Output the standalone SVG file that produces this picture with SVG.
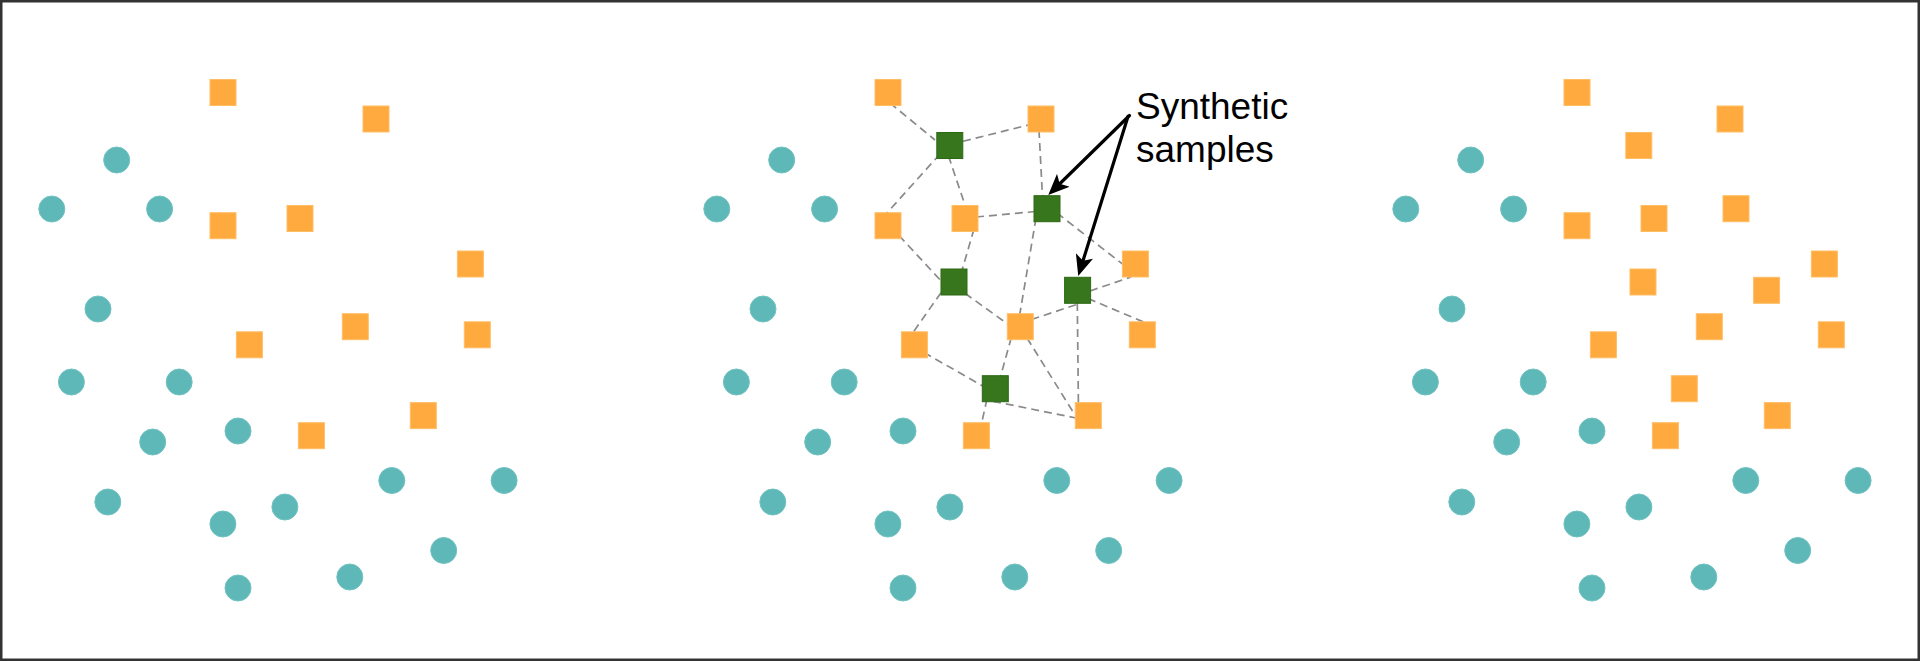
<svg xmlns="http://www.w3.org/2000/svg" xmlns:xlink="http://www.w3.org/1999/xlink" width="1920" height="661" viewBox="0 0 1920 661">
  <style>
    .c { fill: #5eb8b8; stroke: #72c2c2; stroke-width: 1; }
    .o { fill: #ffaa3f; stroke: #ffbd66; stroke-width: 1; }
    .g { fill: #38761d; stroke: #2c6a14; stroke-width: 1; }
    .e { fill: none; stroke: #8a8a8a; stroke-width: 1.7; stroke-dasharray: 8 5; }
    .a { fill: none; stroke: #000; stroke-width: 3.2; stroke-linecap: round; }
    .t { font-family: "Liberation Sans", Arial, sans-serif; font-size: 37px; fill: #000; }
  </style>
  <defs>
    <marker id="arrowhead" viewBox="0 0 21 18" refX="6" refY="9" markerWidth="21" markerHeight="18" markerUnits="userSpaceOnUse" orient="auto">
      <path d="M0,0 L21,9 L0,18 L5,9 Z" fill="#000"/>
    </marker>
  </defs>
  <rect x="1.25" y="1.25" width="1917.5" height="658.5" fill="#fff" stroke="#333" stroke-width="2.5"/>

  <!-- Panel 1: original data -->
  <g id="panel-original">
    <g id="p1-c1"><circle class="c" cx="116.7" cy="160" r="13"/></g>
    <g id="p1-c2"><circle class="c" cx="51.8" cy="209" r="13"/></g>
    <g id="p1-c3"><circle class="c" cx="159.6" cy="209" r="13"/></g>
    <g id="p1-c4"><circle class="c" cx="98" cy="309" r="13"/></g>
    <g id="p1-c5"><circle class="c" cx="71.4" cy="382" r="13"/></g>
    <g id="p1-c6"><circle class="c" cx="179.2" cy="382" r="13"/></g>
    <g id="p1-c7"><circle class="c" cx="152.7" cy="442" r="13"/></g>
    <g id="p1-c8"><circle class="c" cx="238" cy="431" r="13"/></g>
    <g id="p1-c9"><circle class="c" cx="107.8" cy="502" r="13"/></g>
    <g id="p1-c10"><circle class="c" cx="222.9" cy="524" r="13"/></g>
    <g id="p1-c11"><circle class="c" cx="284.9" cy="507" r="13"/></g>
    <g id="p1-c12"><circle class="c" cx="391.8" cy="480.5" r="13"/></g>
    <g id="p1-c13"><circle class="c" cx="504.1" cy="480.5" r="13"/></g>
    <g id="p1-c14"><circle class="c" cx="443.7" cy="550.5" r="13"/></g>
    <g id="p1-c15"><circle class="c" cx="349.8" cy="577" r="13"/></g>
    <g id="p1-c16"><circle class="c" cx="238" cy="588" r="13"/></g>
    <g id="p1-s1"><rect class="o" x="210" y="79.5" width="26" height="26"/></g>
    <g id="p1-s2"><rect class="o" x="363" y="106" width="26" height="26"/></g>
    <g id="p1-s3"><rect class="o" x="210" y="212.7" width="26" height="26"/></g>
    <g id="p1-s4"><rect class="o" x="287" y="205.5" width="26" height="26"/></g>
    <g id="p1-s5"><rect class="o" x="457.4" y="251" width="26" height="26"/></g>
    <g id="p1-s6"><rect class="o" x="236.4" y="331.8" width="26" height="26"/></g>
    <g id="p1-s7"><rect class="o" x="342.3" y="313.7" width="26" height="26"/></g>
    <g id="p1-s8"><rect class="o" x="464.3" y="321.8" width="26" height="26"/></g>
    <g id="p1-s9"><rect class="o" x="298.4" y="422.7" width="26" height="26"/></g>
    <g id="p1-s10"><rect class="o" x="410.3" y="402.6" width="26" height="26"/></g>
  </g>

  <!-- Connectors (dashed neighbour links and callout arrows) -->
  <g id="connectors">
    <line class="e" x1="890" y1="103" x2="935" y2="140"/>
    <line class="e" x1="963" y1="141.3" x2="1030" y2="124.6"/>
    <line class="e" x1="940" y1="154" x2="886" y2="214"/>
    <line class="e" x1="948.5" y1="156" x2="966" y2="208"/>
    <line class="e" x1="1039" y1="130" x2="1042.5" y2="197"/>
    <line class="e" x1="976" y1="217" x2="1036" y2="211.5"/>
    <line class="e" x1="899" y1="235.5" x2="943" y2="283"/>
    <line class="e" x1="974" y1="229" x2="961.5" y2="272"/>
    <line class="e" x1="1057" y1="213" x2="1125" y2="266"/>
    <line class="e" x1="1036" y1="218" x2="1019.5" y2="316"/>
    <line class="e" x1="1090" y1="291" x2="1131" y2="277"/>
    <line class="e" x1="1088" y1="298.5" x2="1146" y2="323"/>
    <line class="e" x1="1076" y1="304.7" x2="1031" y2="319.7"/>
    <line class="e" x1="1077.3" y1="303" x2="1078.4" y2="404"/>
    <line class="e" x1="965" y1="293.3" x2="1009" y2="325"/>
    <line class="e" x1="941" y1="292.7" x2="913" y2="332.5"/>
    <line class="e" x1="924" y1="352.5" x2="985" y2="387.3"/>
    <line class="e" x1="1011.3" y1="337.5" x2="1000" y2="378.5"/>
    <line class="e" x1="1027" y1="338" x2="1075" y2="415"/>
    <line class="e" x1="993" y1="401.3" x2="1076" y2="418"/>
    <line class="e" x1="987" y1="399" x2="981.2" y2="425"/>
    <path class="a" d="M1129.5,115.5 L1059,184.5" marker-end="url(#arrowhead)"/>
    <path class="a" d="M1128,116.5 L1082.7,261.7" marker-end="url(#arrowhead)"/>
  </g>

  <!-- Panel 2: SMOTE with synthetic samples -->
  <g id="panel-smote" transform="translate(665,0)">
    <g id="p2-c1"><circle class="c" cx="116.7" cy="160" r="13"/></g>
    <g id="p2-c2"><circle class="c" cx="51.8" cy="209" r="13"/></g>
    <g id="p2-c3"><circle class="c" cx="159.6" cy="209" r="13"/></g>
    <g id="p2-c4"><circle class="c" cx="98" cy="309" r="13"/></g>
    <g id="p2-c5"><circle class="c" cx="71.4" cy="382" r="13"/></g>
    <g id="p2-c6"><circle class="c" cx="179.2" cy="382" r="13"/></g>
    <g id="p2-c7"><circle class="c" cx="152.7" cy="442" r="13"/></g>
    <g id="p2-c8"><circle class="c" cx="238" cy="431" r="13"/></g>
    <g id="p2-c9"><circle class="c" cx="107.8" cy="502" r="13"/></g>
    <g id="p2-c10"><circle class="c" cx="222.9" cy="524" r="13"/></g>
    <g id="p2-c11"><circle class="c" cx="284.9" cy="507" r="13"/></g>
    <g id="p2-c12"><circle class="c" cx="391.8" cy="480.5" r="13"/></g>
    <g id="p2-c13"><circle class="c" cx="504.1" cy="480.5" r="13"/></g>
    <g id="p2-c14"><circle class="c" cx="443.7" cy="550.5" r="13"/></g>
    <g id="p2-c15"><circle class="c" cx="349.8" cy="577" r="13"/></g>
    <g id="p2-c16"><circle class="c" cx="238" cy="588" r="13"/></g>
    <g id="p2-s1"><rect class="o" x="210" y="79.5" width="26" height="26"/></g>
    <g id="p2-s2"><rect class="o" x="363" y="106" width="26" height="26"/></g>
    <g id="p2-s3"><rect class="o" x="210" y="212.7" width="26" height="26"/></g>
    <g id="p2-s4"><rect class="o" x="287" y="205.5" width="26" height="26"/></g>
    <g id="p2-s5"><rect class="o" x="457.4" y="251" width="26" height="26"/></g>
    <g id="p2-s6"><rect class="o" x="236.4" y="331.8" width="26" height="26"/></g>
    <g id="p2-s7"><rect class="o" x="342.3" y="313.7" width="26" height="26"/></g>
    <g id="p2-s8"><rect class="o" x="464.3" y="321.8" width="26" height="26"/></g>
    <g id="p2-s9"><rect class="o" x="298.4" y="422.7" width="26" height="26"/></g>
    <g id="p2-s10"><rect class="o" x="410.3" y="402.6" width="26" height="26"/></g>
    <g id="p2-g1"><rect class="g" x="271.8" y="132.5" width="26" height="26"/></g>
    <g id="p2-g2"><rect class="g" x="369" y="195.7" width="26" height="26"/></g>
    <g id="p2-g3"><rect class="g" x="276" y="269" width="26" height="26"/></g>
    <g id="p2-g4"><rect class="g" x="399.6" y="277.3" width="26" height="26"/></g>
    <g id="p2-g5"><rect class="g" x="317.3" y="375.7" width="26" height="26"/></g>
  </g>

  <g id="label-synthetic">
    <text class="t" x="1136" y="119">Synthetic</text>
    <text class="t" x="1136" y="161.5">samples</text>
  </g>

  <!-- Panel 3: balanced result -->
  <g id="panel-result" transform="translate(1354,0)">
    <g id="p3-c1"><circle class="c" cx="116.7" cy="160" r="13"/></g>
    <g id="p3-c2"><circle class="c" cx="51.8" cy="209" r="13"/></g>
    <g id="p3-c3"><circle class="c" cx="159.6" cy="209" r="13"/></g>
    <g id="p3-c4"><circle class="c" cx="98" cy="309" r="13"/></g>
    <g id="p3-c5"><circle class="c" cx="71.4" cy="382" r="13"/></g>
    <g id="p3-c6"><circle class="c" cx="179.2" cy="382" r="13"/></g>
    <g id="p3-c7"><circle class="c" cx="152.7" cy="442" r="13"/></g>
    <g id="p3-c8"><circle class="c" cx="238" cy="431" r="13"/></g>
    <g id="p3-c9"><circle class="c" cx="107.8" cy="502" r="13"/></g>
    <g id="p3-c10"><circle class="c" cx="222.9" cy="524" r="13"/></g>
    <g id="p3-c11"><circle class="c" cx="284.9" cy="507" r="13"/></g>
    <g id="p3-c12"><circle class="c" cx="391.8" cy="480.5" r="13"/></g>
    <g id="p3-c13"><circle class="c" cx="504.1" cy="480.5" r="13"/></g>
    <g id="p3-c14"><circle class="c" cx="443.7" cy="550.5" r="13"/></g>
    <g id="p3-c15"><circle class="c" cx="349.8" cy="577" r="13"/></g>
    <g id="p3-c16"><circle class="c" cx="238" cy="588" r="13"/></g>
    <g id="p3-s1"><rect class="o" x="210" y="79.5" width="26" height="26"/></g>
    <g id="p3-s2"><rect class="o" x="363" y="106" width="26" height="26"/></g>
    <g id="p3-s3"><rect class="o" x="210" y="212.7" width="26" height="26"/></g>
    <g id="p3-s4"><rect class="o" x="287" y="205.5" width="26" height="26"/></g>
    <g id="p3-s5"><rect class="o" x="457.4" y="251" width="26" height="26"/></g>
    <g id="p3-s6"><rect class="o" x="236.4" y="331.8" width="26" height="26"/></g>
    <g id="p3-s7"><rect class="o" x="342.3" y="313.7" width="26" height="26"/></g>
    <g id="p3-s8"><rect class="o" x="464.3" y="321.8" width="26" height="26"/></g>
    <g id="p3-s9"><rect class="o" x="298.4" y="422.7" width="26" height="26"/></g>
    <g id="p3-s10"><rect class="o" x="410.3" y="402.6" width="26" height="26"/></g>
    <g id="p3-g1"><rect class="o" x="271.8" y="132.5" width="26" height="26"/></g>
    <g id="p3-g2"><rect class="o" x="369" y="195.7" width="26" height="26"/></g>
    <g id="p3-g3"><rect class="o" x="276" y="269" width="26" height="26"/></g>
    <g id="p3-g4"><rect class="o" x="399.6" y="277.3" width="26" height="26"/></g>
    <g id="p3-g5"><rect class="o" x="317.3" y="375.7" width="26" height="26"/></g>
  </g>
</svg>
